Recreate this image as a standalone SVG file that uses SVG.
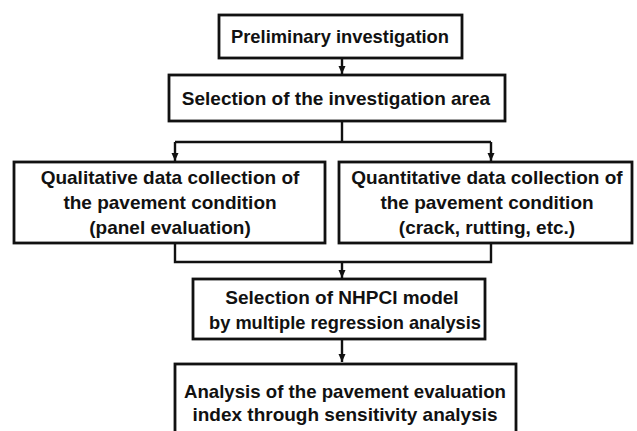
<svg xmlns="http://www.w3.org/2000/svg" width="637" height="431" viewBox="0 0 637 431">
<defs>
<marker id="ah" viewBox="0 0 8 8" refX="8" refY="4" markerWidth="8" markerHeight="8" markerUnits="userSpaceOnUse" orient="auto">
<path d="M0,0.5 L8,4 L0,7.5 Z" fill="#111"/>
</marker>
<style>
.box{fill:#fff;stroke:#111;stroke-width:2.8}
.ln{fill:none;stroke:#111;stroke-width:2.4}
text{font-family:"Liberation Sans",Arial,sans-serif;font-weight:bold;font-size:19px;fill:#111;text-anchor:middle}
</style>
</defs>
<rect width="637" height="431" fill="#fff"/>
<g id="connectors">
<path class="ln" d="M342,58 V74" marker-end="url(#ah)"/>
<path class="ln" d="M342,121 V141"/>
<path class="ln" d="M175,142 H491"/>
<path class="ln" d="M175,142 V161" marker-end="url(#ah)"/>
<path class="ln" d="M491,142 V161" marker-end="url(#ah)"/>
<path class="ln" d="M175,243 V262 H491 V243"/>
<path class="ln" d="M342,262 V278" marker-end="url(#ah)"/>
<path class="ln" d="M342,340 V362" marker-end="url(#ah)"/>
</g>
<g id="n1">
<rect class="box" x="219" y="15" width="243" height="43"/>
<text x="340" y="43" textLength="218" lengthAdjust="spacingAndGlyphs">Preliminary investigation</text>
</g>
<g id="n2">
<rect class="box" x="169" y="75" width="336" height="46"/>
<text x="336" y="105">Selection of the investigation area</text>
</g>
<g id="n3">
<rect class="box" x="14" y="162" width="311" height="81"/>
<text x="170" y="184">Qualitative data collection of</text>
<text x="170" y="209">the pavement condition</text>
<text x="170" y="234">(panel evaluation)</text>
</g>
<g id="n4">
<rect class="box" x="339" y="162" width="293" height="81"/>
<text x="487" y="184">Quantitative data collection of</text>
<text x="487" y="209">the pavement condition</text>
<text x="487" y="234">(crack, rutting, etc.)</text>
</g>
<g id="n5">
<rect class="box" x="193" y="279" width="292" height="60"/>
<text x="342" y="304">Selection of NHPCI model</text>
<text x="345" y="329" textLength="272" lengthAdjust="spacingAndGlyphs">by multiple regression analysis</text>
</g>
<g id="n6">
<rect class="box" x="175" y="364" width="341" height="80"/>
<text x="345" y="398" textLength="322" lengthAdjust="spacingAndGlyphs">Analysis of the pavement evaluation</text>
<text x="345" y="421">index through sensitivity analysis</text>
</g>
</svg>
